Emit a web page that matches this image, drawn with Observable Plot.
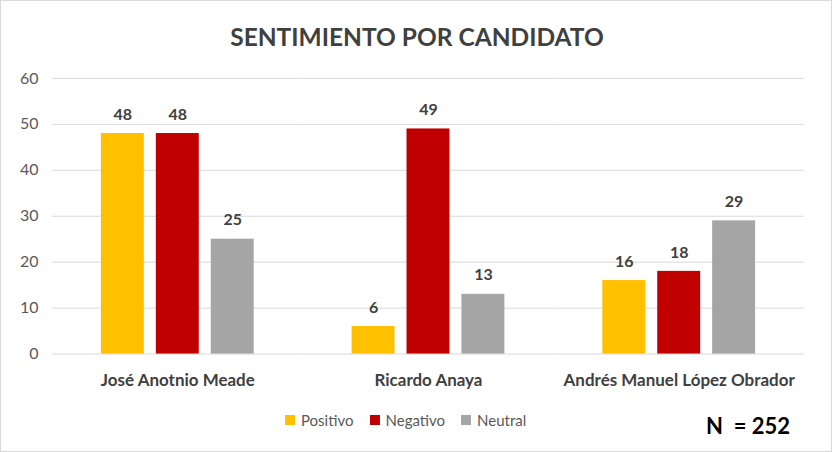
<!DOCTYPE html>
<html><head><meta charset="utf-8">
<script src="https://cdn.jsdelivr.net/npm/d3@7"></script>
<script src="https://cdn.jsdelivr.net/npm/@observablehq/plot@0.6"></script>
<style>
body{margin:0;background:#fff;}
#wrap{position:relative;width:830px;height:450px;border:1px solid #d9d9d9;font-family:Lato,"Open Sans",sans-serif;overflow:hidden;}
#title{position:absolute;left:0;width:832px;top:21px;text-align:center;font-weight:bold;font-size:24.5px;color:#404040;}
#chart{position:absolute;left:-1px;top:-1px;}
#legend{position:absolute;left:284px;top:410px;display:flex;gap:0;font-size:15px;color:#595959;}
#legend .it{display:flex;align-items:center;margin-right:16px;}
#legend .sw{width:10px;height:10px;margin-right:6px;}
#n{position:absolute;left:705px;top:411px;font-weight:bold;font-size:22px;color:#000;white-space:pre;}
</style></head>
<body><div id="wrap"><div id="chart"></div><div id="title">SENTIMIENTO POR CANDIDATO</div><div id="legend"></div><div id="n">N  = 252</div></div>
<script>
const candidates = ["José Anotnio Meade", "Ricardo Anaya", "Andrés Manuel López Obrador"];
const series = ["Positivo", "Negativo", "Neutral"];
const positivo = [48, 6, 16];
const negativo = [48, 49, 18];
const neutral = [25, 13, 29];
const colors = ["#FFC000", "#C00000", "#A5A5A5"];
const yTicks = [0, 10, 20, 30, 40, 50, 60];

const vals = [positivo, negativo, neutral];
const data = [];
candidates.forEach((c, i) => series.forEach((s, j) => data.push({candidato: c, serie: s, valor: vals[j][i]})));

const chart = Plot.plot({
  width: 832, height: 390,
  marginLeft: 51, marginRight: 26, marginTop: 78, marginBottom: 36,
  style: {fontFamily: "Lato, 'Open Sans', sans-serif", background: "transparent"},
  fx: {domain: candidates, padding: 0, label: null, axis: null},
  x: {domain: series, paddingInner: 0.214, paddingOuter: 0.855, axis: null},
  y: {domain: [0, 60], ticks: yTicks, label: null, tickSize: 0, tickPadding: 14},
  color: {domain: series, range: colors},
  marks: [
    Plot.gridY(yTicks, {stroke: "#d9d9d9", strokeOpacity: 1}),
    Plot.axisY({ticks: yTicks, tickSize: 0, tickPadding: 14, fontSize: 16, fill: "#595959", label: null}),
    Plot.barY(data, {fx: "candidato", x: "serie", y: "valor", fill: "serie"}),
    Plot.text(data, {fx: "candidato", x: "serie", y: "valor", text: "valor", dy: -19, fontSize: 16, fontWeight: "bold", fill: "#404040"}),
    Plot.axisFx({anchor: "bottom", tickSize: 0, tickPadding: 20, fontSize: 17, fontWeight: "bold", fill: "#404040", label: null})
  ]
});
document.getElementById("chart").appendChild(chart);

const lg = document.getElementById("legend");
series.forEach((s, i) => {
  const it = document.createElement("div"); it.className = "it";
  const sw = document.createElement("div"); sw.className = "sw"; sw.style.background = colors[i];
  const t = document.createElement("span"); t.textContent = s;
  it.appendChild(sw); it.appendChild(t); lg.appendChild(it);
});
</script></body></html>
